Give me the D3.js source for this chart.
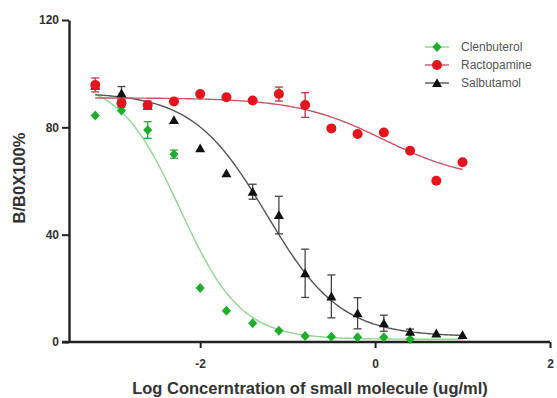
<!DOCTYPE html>
<html>
<head>
<meta charset="utf-8">
<script src="https://cdn.jsdelivr.net/npm/d3@7"></script>
<style>
  html, body { margin: 0; padding: 0; background: #fff; }
  svg { display: block; }
</style>
</head>
<body>
<svg id="chart" width="557" height="398"></svg>
<script>
// ---- data ----
const seriesNames = ["Clenbuterol", "Ractopamine", "Salbutamol"];
const logConc = [-3.2, -2.9, -2.6, -2.3, -2.0, -1.7, -1.4, -1.1, -0.8, -0.5, -0.2, 0.1, 0.4, 0.7, 1.0];

const clenValues = [84.4, 86.3, 79.0, 70.0, 20.1, 11.6, 7.0, 4.2, 2.2, 2.0, 1.8, 1.8, 1.0];
const clenErrors = [0, 0, 3.1, 1.5, 0, 0, 0, 0, 0, 0, 0, 0, 0];

const ractValues = [95.8, 89.0, 88.3, 89.6, 92.4, 91.2, 90.0, 92.4, 88.3, 79.6, 77.5, 78.1, 71.3, 60.1, 67.0];
const ractErrors = [2.6, 1.5, 1.5, 0, 0, 0, 0, 2.6, 4.6, 0, 0, 0, 0, 0, 0];

const salbValues = [95.5, 92.7, 88.0, 82.7, 72.2, 62.9, 56.0, 47.3, 25.6, 17.0, 10.7, 7.0, 3.8, 3.2, 2.6];
const salbErrors = [0, 2.5, 0, 0, 0, 0, 2.8, 7.0, 9.0, 8.0, 5.8, 3.0, 1.0, 0, 0];

// four-parameter logistic fits: [top, bottom, logIC50, hill]
const clenFit = [98, 1, -2.23, 1.25];
const ractFit = [91, 60, 0.095, 0.876];
const salbFit = [93, 2, -1.24, 1.03];
const fitRange = [-3.2, 1.0];

const yTicks = [0, 40, 80, 120];
const xTicks = [-2, 0, 2];
const xTitle = "Log Concerntration of small molecule (ug/ml)";
const yTitle = "B/B0X100%";

// ---- chart ----
const svg = d3.select("#chart");
const x = d3.scaleLinear().domain([-3.5, 2]).range([69, 550]);
const y = d3.scaleLinear().domain([0, 120]).range([342, 20]);

const font = "'Liberation Sans', Arial, sans-serif";

const series = [
  { name: seriesNames[0], values: clenValues, errors: clenErrors, fit: clenFit,
    color: "#1fae2b", curve: "#8fd690", err: "#3aa043", shape: "diamond" },
  { name: seriesNames[2], values: salbValues, errors: salbErrors, fit: salbFit,
    color: "#111111", curve: "#555555", err: "#444444", shape: "triangle" },
  { name: seriesNames[1], values: ractValues, errors: ractErrors, fit: ractFit,
    color: "#e3141c", curve: "#cc5468", err: "#b03a44", shape: "circle" }
];

function shapePath(shape) {
  if (shape === "circle") return d3.symbol().type(d3.symbolCircle).size(Math.PI * 25)();
  if (shape === "diamond") return "M0,-5L4.6,0L0,5L-4.6,0Z";
  return "M0,-4.8L5,4L-5,4Z";
}

function logistic(p, xv) {
  const [top, bottom, c, h] = p;
  return bottom + (top - bottom) / (1 + Math.pow(10, (xv - c) * h));
}

// axes
const yAxis = d3.axisLeft(y).tickValues(yTicks).tickSize(7).tickSizeOuter(0).tickPadding(3);
const xAxis = d3.axisBottom(x).tickValues(xTicks).tickSize(6).tickSizeOuter(0).tickPadding(11)
  .tickFormat(d => String(d));

const gy = svg.append("g").attr("transform", `translate(${x.range()[0]},0)`).call(yAxis);
const gx = svg.append("g").attr("transform", `translate(0,${y.range()[0]})`).call(xAxis);

[gx, gy].forEach(g => {
  g.select(".domain").attr("stroke", "#222").attr("stroke-width", 2.4);
  g.selectAll(".tick line").attr("stroke", "#222").attr("stroke-width", 2);
  g.selectAll(".tick text").attr("fill", "#333").style("font-family", font)
    .style("font-size", "12px").style("font-weight", "bold");
});
gx.select(".domain").attr("d", `M${x.range()[0] - 7},0H${x.range()[1]}`);

// curves and points
const curveX = d3.range(fitRange[0], fitRange[1] + 0.0001, 0.02);
const lineGen = d3.line().x(d => x(d[0])).y(d => y(d[1])).curve(d3.curveLinear);

series.forEach(s => {
  svg.append("path")
    .datum(curveX.map(v => [v, logistic(s.fit, v)]))
    .attr("d", lineGen)
    .attr("fill", "none")
    .attr("stroke", s.curve)
    .attr("stroke-width", 1.4);
});

series.forEach(s => {
  const pts = s.values.map((v, i) => ({ x: logConc[i], y: v, e: s.errors[i] }));
  const g = svg.append("g");
  pts.filter(p => p.e > 0).forEach(p => {
    const eg = g.append("g").attr("stroke", s.err).attr("stroke-width", 1.3);
    eg.append("line").attr("x1", x(p.x)).attr("x2", x(p.x)).attr("y1", y(p.y - p.e)).attr("y2", y(p.y + p.e));
    eg.append("line").attr("x1", x(p.x) - 4).attr("x2", x(p.x) + 4).attr("y1", y(p.y - p.e)).attr("y2", y(p.y - p.e));
    eg.append("line").attr("x1", x(p.x) - 4).attr("x2", x(p.x) + 4).attr("y1", y(p.y + p.e)).attr("y2", y(p.y + p.e));
  });
  g.selectAll("path.pt").data(pts).join("path")
    .attr("class", "pt")
    .attr("d", shapePath(s.shape))
    .attr("transform", p => `translate(${x(p.x)},${y(p.y)})`)
    .attr("fill", s.color);
});

// legend
const legendOrder = [series[0], series[2], series[1]];
legendOrder.forEach((s, i) => {
  const ly = 47 + i * 18;
  const lg = svg.append("g").attr("transform", `translate(437,${ly})`);
  lg.append("line").attr("x1", -12).attr("x2", 12).attr("y1", 0).attr("y2", 0)
    .attr("stroke", s.curve).attr("stroke-width", 1.4);
  lg.append("path").attr("d", shapePath(s.shape)).attr("fill", s.color);
  svg.append("text").attr("x", 461).attr("y", ly).attr("dy", "0.35em")
    .attr("fill", "#555").style("font-family", font).style("font-size", "12px")
    .text(s.name);
});

// axis titles
svg.append("text")
  .attr("x", 310).attr("y", 394)
  .attr("text-anchor", "middle")
  .attr("fill", "#333").style("font-family", font).style("font-size", "16.5px").style("font-weight", "bold")
  .text(xTitle);

svg.append("text")
  .attr("transform", "translate(25,178) rotate(-90)")
  .attr("text-anchor", "middle")
  .attr("fill", "#333").style("font-family", font).style("font-size", "16.5px").style("font-weight", "bold")
  .text(yTitle);
</script>
</body>
</html>
